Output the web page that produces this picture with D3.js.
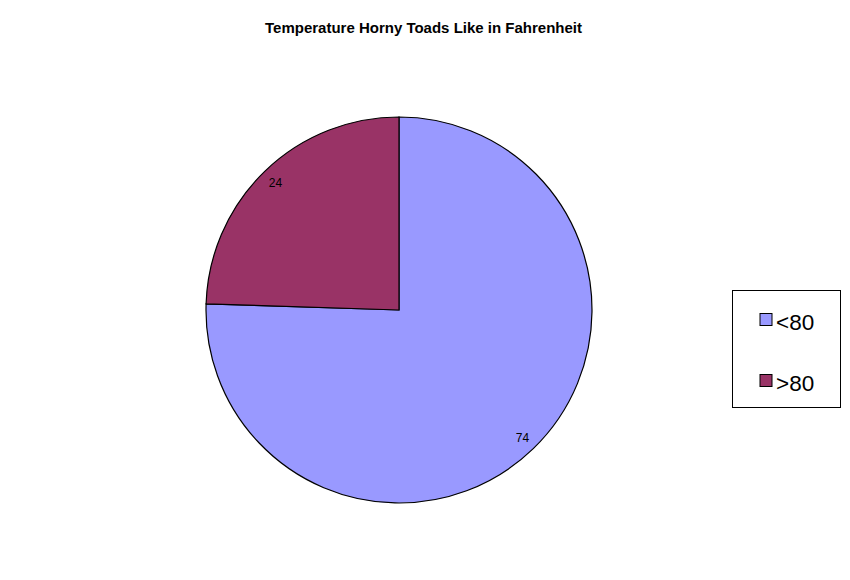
<!DOCTYPE html>
<html><head><meta charset="utf-8">
<script src="https://cdn.jsdelivr.net/npm/d3@7"></script>
<style>body{margin:0;background:#fff;}svg{display:block;}</style>
</head><body>
<script>
const categories = ["<80", ">80"];
const values = [74, 24];
const colors = ["#9999FF", "#993366"];
const title = "Temperature Horny Toads Like in Fahrenheit";

const W = 850, H = 580;
const svg = d3.select("body").append("svg").attr("width", W).attr("height", H);
svg.append("rect").attr("width", W).attr("height", H).attr("fill", "#fff");

svg.append("text").attr("x", 423.5).attr("y", 33).attr("text-anchor", "middle")
  .attr("font-family", "Liberation Sans, Arial, sans-serif").attr("font-weight", "bold")
  .attr("font-size", 15).text(title);

const cx = 399, cy = 310, r = 193;
const data = categories.map((c, i) => ({cat: c, value: values[i], color: colors[i]}));
const pie = d3.pie().value(d => d.value).sort(null);
const arcs = pie(data);
const arc = d3.arc().innerRadius(0).outerRadius(r);
const labelArc = d3.arc().innerRadius(r * 0.92).outerRadius(r * 0.92);
const g = svg.append("g").attr("transform", `translate(${cx},${cy})`);
g.selectAll("path").data(arcs).join("path")
  .attr("d", arc).attr("fill", d => d.data.color)
  .attr("stroke", "#000").attr("stroke-width", 1.2);
g.selectAll("text").data(arcs).join("text")
  .attr("transform", d => `translate(${labelArc.centroid(d)})`)
  .attr("text-anchor", "middle").attr("dy", "0.35em")
  .attr("font-family", "Liberation Sans, Arial, sans-serif").attr("font-size", 12)
  .text(d => d.data.value);

const lg = svg.append("g");
lg.append("rect").attr("x", 732.5).attr("y", 290.5).attr("width", 108).attr("height", 117)
  .attr("fill", "#fff").attr("stroke", "#000").attr("stroke-width", 1);
const ly = d3.scalePoint().domain(categories).range([319.5, 380.5]);
categories.forEach((c, i) => {
  lg.append("rect").attr("x", 760).attr("y", ly(c) - 6).attr("width", 12).attr("height", 12)
    .attr("fill", colors[i]).attr("stroke", "#000").attr("stroke-width", 1);
  lg.append("text").attr("x", 776).attr("y", ly(c) + 10).attr("font-family", "Liberation Sans, Arial, sans-serif")
    .attr("font-size", 22.5).text(c);
});
</script>
</body></html>
